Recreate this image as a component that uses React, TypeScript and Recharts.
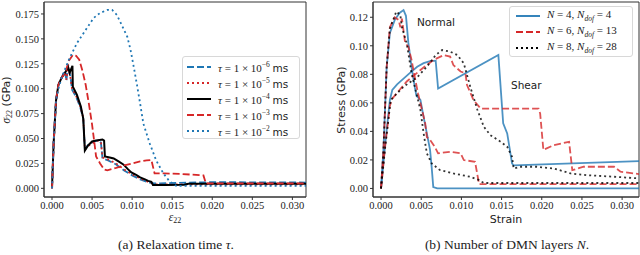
import React from "react";
import { LineChart, Line, XAxis, YAxis, ReferenceArea } from "recharts";

// ---- (a) relaxation time tau ----
const tau6X = [0, 0.0002, 0.0005, 0.0008, 0.0012, 0.0016, 0.0018, 0.002, 0.0023, 0.0025, 0.003, 0.0035, 0.0039, 0.0041, 0.0046, 0.0052, 0.0058, 0.0061, 0.0063, 0.007, 0.008, 0.009, 0.01, 0.011, 0.012, 0.0128, 0.0135, 0.02, 0.032];
const tau6Y = [0, 0.045, 0.088, 0.104, 0.111, 0.118, 0.108, 0.124, 0.112, 0.099, 0.092, 0.082, 0.07, 0.04, 0.044, 0.047, 0.048, 0.046, 0.03, 0.028, 0.024, 0.018, 0.013, 0.009, 0.006, 0.005, 0.005, 0.0062, 0.0058];
const tau5X = tau6X;
const tau5Y = [0, 0.045, 0.088, 0.104, 0.111, 0.117, 0.109, 0.122, 0.111, 0.1, 0.093, 0.083, 0.071, 0.039, 0.043, 0.046, 0.048, 0.047, 0.031, 0.029, 0.025, 0.019, 0.014, 0.01, 0.0065, 0.004, 0.0038, 0.004, 0.004];
const tau4X = [0, 0.0002, 0.0005, 0.0008, 0.0012, 0.0017, 0.002, 0.0022, 0.00255, 0.0026, 0.0031, 0.0036, 0.0039, 0.0041, 0.0045, 0.005, 0.0055, 0.0063, 0.0065, 0.0066, 0.0072, 0.0077, 0.0083, 0.0089, 0.0095, 0.0099, 0.0105, 0.011, 0.0116, 0.012, 0.0124, 0.0126, 0.014, 0.0165, 0.017, 0.025, 0.032];
const tau4Y = [0, 0.045, 0.088, 0.104, 0.111, 0.117, 0.122, 0.116, 0.123, 0.102, 0.094, 0.082, 0.07, 0.038, 0.043, 0.047, 0.048, 0.049, 0.048, 0.032, 0.031, 0.03, 0.027, 0.024, 0.019, 0.016, 0.0135, 0.011, 0.009, 0.0075, 0.0065, 0.0033, 0.0033, 0.0035, 0.0045, 0.0045, 0.0045];
const tau3X = [0, 0.0002, 0.0005, 0.0008, 0.0012, 0.0017, 0.0021, 0.0026, 0.003, 0.0034, 0.0038, 0.0042, 0.0046, 0.005, 0.0053, 0.0055, 0.006, 0.0065, 0.0069, 0.008, 0.009, 0.01, 0.011, 0.0118, 0.0124, 0.0128, 0.014, 0.016, 0.0189, 0.0192, 0.025, 0.032];
const tau3Y = [0, 0.045, 0.088, 0.104, 0.111, 0.117, 0.128, 0.134, 0.133, 0.129, 0.118, 0.104, 0.085, 0.064, 0.045, 0.032, 0.025, 0.019, 0.018, 0.0205, 0.023, 0.025, 0.027, 0.028, 0.0285, 0.015, 0.015, 0.0145, 0.013, 0.005, 0.005, 0.005];
const tau2X = [0, 0.0002, 0.0005, 0.0008, 0.0012, 0.0015, 0.0021, 0.0031, 0.0042, 0.0052, 0.006, 0.0069, 0.0075, 0.0081, 0.0087, 0.0094, 0.0098, 0.0102, 0.0106, 0.011, 0.0114, 0.0122, 0.013, 0.0139, 0.0147, 0.0155, 0.02, 0.032];
const tau2Y = [0, 0.045, 0.088, 0.1, 0.111, 0.117, 0.129, 0.1455, 0.159, 0.171, 0.176, 0.179, 0.179, 0.174, 0.164, 0.152, 0.139, 0.122, 0.104, 0.085, 0.065, 0.045, 0.028, 0.015, 0.0067, 0.0025, 0.0025, 0.0025];

// ---- (b) number of DMN layers ----
const n4NormalX = [0, 0.0003, 0.0007, 0.0011, 0.0017, 0.0023, 0.0028, 0.0031, 0.0034, 0.0038, 0.0042, 0.0044, 0.0049, 0.0053, 0.0057, 0.0061, 0.0063, 0.0065, 0.007, 0.0322];
const n4NormalY = [0, 0.027, 0.085, 0.109, 0.118, 0.123, 0.125, 0.121, 0.102, 0.085, 0.071, 0.065, 0.062, 0.05, 0.0386, 0.027, 0.015, 0.001, 0, 0];
const n4ShearX = [0, 0.0005, 0.0011, 0.0014, 0.002, 0.0028, 0.0036, 0.0045, 0.0053, 0.0061, 0.0068, 0.0071, 0.0146, 0.0152, 0.0157, 0.0163, 0.0165, 0.0322];
const n4ShearY = [0, 0.03, 0.062, 0.069, 0.073, 0.077, 0.081, 0.0853, 0.0878, 0.0893, 0.0896, 0.07, 0.0935, 0.0456, 0.0386, 0.0175, 0.0162, 0.0192];
const n6NormalX = [0, 0.0003, 0.0007, 0.0011, 0.0017, 0.0022, 0.0024, 0.0026, 0.003, 0.0034, 0.0038, 0.0042, 0.0046, 0.0051, 0.0055, 0.0057, 0.0061, 0.0067, 0.0071, 0.0086, 0.0099, 0.0103, 0.0117, 0.0122, 0.0322];
const n6NormalY = [0, 0.027, 0.085, 0.113, 0.12, 0.118, 0.113, 0.119, 0.102, 0.0994, 0.09, 0.078, 0.0667, 0.055, 0.0456, 0.036, 0.034, 0.029, 0.0246, 0.0257, 0.0246, 0.0199, 0.0187, 0.003, 0.003];
const n6ShearX = [0, 0.0005, 0.0011, 0.0014, 0.0032, 0.0049, 0.0065, 0.0078, 0.0086, 0.009, 0.0099, 0.0105, 0.0107, 0.0115, 0.0124, 0.0196, 0.0198, 0.0202, 0.0215, 0.0234, 0.0238, 0.0252, 0.029, 0.0298, 0.0322];
const n6ShearY = [0, 0.029, 0.058, 0.063, 0.075, 0.083, 0.09, 0.0935, 0.0924, 0.0865, 0.082, 0.0807, 0.0725, 0.062, 0.056, 0.056, 0.0526, 0.027, 0.0304, 0.0327, 0.0128, 0.0152, 0.0152, 0.0117, 0.01];
const n8NormalX = [0, 0.0003, 0.0007, 0.0011, 0.0019, 0.0024, 0.0026, 0.0032, 0.0038, 0.0044, 0.0049, 0.0053, 0.0057, 0.0063, 0.0073, 0.009, 0.0111, 0.0122, 0.0128, 0.0322];
const n8NormalY = [0, 0.027, 0.085, 0.112, 0.124, 0.1216, 0.113, 0.1017, 0.0807, 0.0667, 0.055, 0.0386, 0.0246, 0.0175, 0.013, 0.0105, 0.0082, 0.0058, 0.0038, 0.0038];
const n8ShearX = [0, 0.0005, 0.0012, 0.0028, 0.0045, 0.0057, 0.0068, 0.0076, 0.0086, 0.0095, 0.0103, 0.0111, 0.012, 0.0128, 0.0136, 0.0149, 0.0157, 0.0163, 0.0165, 0.0173, 0.0194, 0.0215, 0.0236, 0.0256, 0.029, 0.0322];
const n8ShearY = [0, 0.028, 0.062, 0.0713, 0.078, 0.0853, 0.0935, 0.097, 0.0959, 0.0935, 0.0877, 0.0713, 0.055, 0.0432, 0.0374, 0.0327, 0.0292, 0.0222, 0.014, 0.0152, 0.0152, 0.014, 0.0105, 0.0093, 0.0082, 0.007];

const strainTicks = [0, 0.005, 0.01, 0.015, 0.02, 0.025, 0.03];
const sigmaTicks = [0, 0.025, 0.05, 0.075, 0.1, 0.125, 0.15, 0.175];
const stressTicks = [0, 0.02, 0.04, 0.06, 0.08, 0.1, 0.12];
const tauExponents = ["−6", "−5", "−4", "−3", "−2"];
const layerLabels = [
  { n: "4", dof: "4" },
  { n: "6", dof: "13" },
  { n: "8", dof: "28" },
];

const BLUE = "#1f77b4";
const RED = "#d62728";
const SERIF = "'Liberation Serif', 'DejaVu Serif', serif";
const SANS = "'DejaVu Sans', sans-serif";

const toPts = (xs: number[], ys: number[]) => xs.map((x, i) => ({ x, y: ys[i] }));

const tauSeries = [
  { key: "t6", data: toPts(tau6X, tau6Y), color: BLUE, dash: "7 3", width: 1.8 },
  { key: "t5", data: toPts(tau5X, tau5Y), color: RED, dash: "2 3", width: 1.8 },
  { key: "t4", data: toPts(tau4X, tau4Y), color: "#000", dash: undefined, width: 2 },
  { key: "t3", data: toPts(tau3X, tau3Y), color: RED, dash: "7 3", width: 1.8 },
  { key: "t2", data: toPts(tau2X, tau2Y), color: BLUE, dash: "2 3", width: 1.8 },
];

const layerSeries = [
  { key: "n4n", data: toPts(n4NormalX, n4NormalY), color: BLUE, dash: undefined, width: 1.8 },
  { key: "n4s", data: toPts(n4ShearX, n4ShearY), color: BLUE, dash: undefined, width: 1.8 },
  { key: "n6n", data: toPts(n6NormalX, n6NormalY), color: RED, dash: "7 3", width: 1.8 },
  { key: "n6s", data: toPts(n6ShearX, n6ShearY), color: RED, dash: "7 3", width: 1.8 },
  { key: "n8n", data: toPts(n8NormalX, n8NormalY), color: "#000", dash: "2 3", width: 1.8 },
  { key: "n8s", data: toPts(n8ShearX, n8ShearY), color: "#000", dash: "2 3", width: 1.8 },
];

const tick = { fontFamily: SERIF, fontSize: 10.5, fill: "#222" };

function Sample({ color, dash, width }: { color: string; dash?: string; width: number }) {
  return (
    <svg width={24} height={8} style={{ display: "block" }}>
      <line x1={0} y1={4} x2={24} y2={4} stroke={color} strokeWidth={width} strokeDasharray={dash} />
    </svg>
  );
}

export default function App() {
  const legendBox: React.CSSProperties = {
    position: "absolute",
    background: "rgba(255,255,255,0.85)",
    border: "1px solid #d8d8d8",
    borderRadius: 3,
    boxSizing: "border-box",
  };
  const row: React.CSSProperties = { display: "flex", alignItems: "center", height: 16, gap: 7 };

  return (
    <div style={{ position: "fixed", left: 0, top: 0, width: 640, height: 255, background: "#fff", overflow: "hidden" }}>
      {/* (a) */}
      <div style={{ position: "absolute", left: 0, top: 0 }}>
        <LineChart width={320} height={230} margin={{ top: 2, right: 14, bottom: 13, left: 4 }}>
          <XAxis
            dataKey="x"
            type="number"
            domain={[-0.001, 0.0317]}
            allowDataOverflow
            ticks={strainTicks}
            tickFormatter={(v: number) => v.toFixed(3)}
            tick={tick}
            tickSize={3}
            height={20}
            stroke="#333"
          />
          <YAxis
            dataKey="y"
            type="number"
            domain={[-0.0087, 0.187]}
            allowDataOverflow
            ticks={sigmaTicks}
            tickFormatter={(v: number) => v.toFixed(3)}
            tick={tick}
            tickSize={3}
            width={40}
            stroke="#333"
          />
          <ReferenceArea x1={-0.001} x2={0.0317} y1={-0.0087} y2={0.187} fill="none" stroke="#333" strokeWidth={1} />
          {tauSeries.map((s) => (
            <Line
              key={s.key}
              data={s.data}
              dataKey="y"
              type="linear"
              stroke={s.color}
              strokeWidth={s.width}
              strokeDasharray={s.dash}
              dot={false}
              activeDot={false}
              isAnimationActive={false}
            />
          ))}
        </LineChart>
      </div>

      {/* (b) */}
      <div style={{ position: "absolute", left: 320, top: 0 }}>
        <LineChart width={320} height={230} margin={{ top: 2, right: 1, bottom: 13, left: 8 }}>
          <XAxis
            dataKey="x"
            type="number"
            domain={[-0.001, 0.0321]}
            allowDataOverflow
            ticks={strainTicks}
            tickFormatter={(v: number) => v.toFixed(3)}
            tick={tick}
            tickSize={3}
            height={20}
            stroke="#333"
          />
          <YAxis
            dataKey="y"
            type="number"
            domain={[-0.006, 0.1307]}
            allowDataOverflow
            ticks={stressTicks}
            tickFormatter={(v: number) => v.toFixed(2)}
            tick={tick}
            tickSize={3}
            width={45}
            stroke="#333"
          />
          <ReferenceArea x1={-0.001} x2={0.0321} y1={-0.006} y2={0.1307} fill="none" stroke="#333" strokeWidth={1} />
          {layerSeries.map((s) => (
            <Line
              key={s.key}
              data={s.data}
              dataKey="y"
              type="linear"
              stroke={s.color}
              strokeOpacity={0.8}
              strokeWidth={s.width}
              strokeDasharray={s.dash}
              dot={false}
              activeDot={false}
              isAnimationActive={false}
            />
          ))}
        </LineChart>
      </div>

      {/* legends */}
      <div style={{ ...legendBox, left: 182, top: 56, width: 118, height: 83, padding: "2px 0 0 4px" }}>
        {tauSeries.map((s, i) => (
          <div key={s.key} style={row}>
            <Sample color={s.color} dash={s.dash} width={s.width} />
            <span style={{ fontFamily: SERIF, fontSize: 11, color: "#222", whiteSpace: "nowrap" }}>
              <i>τ</i> = 1 × 10<sup style={{ fontSize: 7.5 }}>{tauExponents[i]}</sup>{" "}
              <span style={{ fontFamily: SANS, fontSize: 10.5 }}>ms</span>
            </span>
          </div>
        ))}
      </div>
      <div style={{ ...legendBox, left: 509, top: 6, width: 124, height: 51, padding: "1px 0 0 6px" }}>
        {layerLabels.map((l, i) => {
          const s = layerSeries[i * 2];
          return (
            <div key={l.n} style={row}>
              <Sample color={s.color} dash={s.dash} width={s.width} />
              <span style={{ fontFamily: SERIF, fontSize: 11, color: "#222", whiteSpace: "nowrap" }}>
                <i>N</i> = {l.n}, <i>N</i>
                <sub style={{ fontSize: 7.5, fontStyle: "italic" }}>dof</sub> = {l.dof}
              </span>
            </div>
          );
        })}
      </div>

      {/* labels, annotations, captions */}
      <svg width={640} height={255} style={{ position: "absolute", left: 0, top: 0, pointerEvents: "none" }}>
        <text transform="translate(10,100) rotate(-90)" textAnchor="middle" fontSize={11.5} fill="#222">
          <tspan fontFamily={SERIF} fontStyle="italic">σ</tspan>
          <tspan fontFamily={SERIF} fontSize={8} dy={2}>22</tspan>
          <tspan fontFamily={SANS} fontSize={11} dy={-2}> (GPa)</tspan>
        </text>
        <text x={175} y={221} textAnchor="middle" fontSize={11.5} fill="#222">
          <tspan fontFamily={SERIF} fontStyle="italic">ε</tspan>
          <tspan fontFamily={SERIF} fontSize={8} dy={2}>22</tspan>
        </text>
        <text transform="translate(345,100) rotate(-90)" textAnchor="middle" fontFamily={SANS} fontSize={11} fill="#222">
          Stress (GPa)
        </text>
        <text x={506} y={223} textAnchor="middle" fontFamily={SANS} fontSize={11} fill="#222">
          Strain
        </text>
        <text x={417} y={26} fontFamily={SANS} fontSize={10.5} fill="#222">Normal</text>
        <text x={511} y={89} fontFamily={SANS} fontSize={10.5} fill="#222">Shear</text>
        <text x={176} y={249} textAnchor="middle" fontFamily={SERIF} fontSize={13.5} fill="#222">
          (a) Relaxation time <tspan fontStyle="italic">τ</tspan>.
        </text>
        <text x={507} y={249} textAnchor="middle" fontFamily={SERIF} fontSize={13.5} fill="#222">
          (b) Number of DMN layers <tspan fontStyle="italic">N</tspan>.
        </text>
      </svg>
    </div>
  );
}
